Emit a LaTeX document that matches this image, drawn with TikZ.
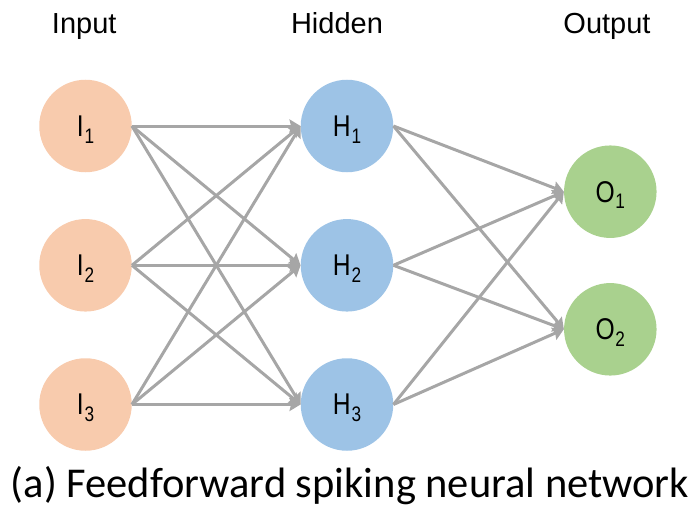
\documentclass[tikz,border=0pt]{standalone}
\usepackage{fontspec}
\setmainfont{Liberation Sans}
\newfontfamily\captionfont{Carlito}
\usetikzlibrary{arrows.meta}

\definecolor{inpcol}{HTML}{F8CBAD}
\definecolor{hidcol}{HTML}{9DC3E6}
\definecolor{outcol}{HTML}{A9D18E}
\definecolor{wirecol}{HTML}{A6A6A6}

% neuron label: narrow letter with a lowered subscript index
\newcommand{\neuron}[2]{\scalebox{0.82}[1]{#1\kern1pt{\fontsize{21}{21}\selectfont\raisebox{-6.7pt}{#2}}}}

\tikzset{
  neuronbase/.style={circle, minimum size=92.5pt, inner sep=0pt, text depth=0pt,
    font=\fontsize{30}{30}\selectfont},
  inneuron/.style={neuronbase, fill=inpcol},
  hidneuron/.style={neuronbase, fill=hidcol},
  outneuron/.style={neuronbase, fill=outcol},
  layertitle/.style={anchor=base, font=\fontsize{29}{29}\selectfont},
  wire/.style={draw=wirecol, line width=3pt,
    -{Stealth[length=11pt, width=13pt, inset=1.5pt]}},
}

\begin{document}
\begin{tikzpicture}[x=1pt, y=-1pt]
  \path[use as bounding box] (0,0) rectangle (695,508);

  % layer titles
  \node[layertitle] (tin)  at (84.2,33.3) {Input};
  \node[layertitle] (thid) at (337,33.3) {Hidden};
  \node[layertitle] (tout) at (607,33.3) {Output};

  % input layer
  \node[inneuron] (i1) at (85.5,126)   {\neuron{I}{1}};
  \node[inneuron] (i2) at (85.5,265.3) {\neuron{I}{2}};
  \node[inneuron] (i3) at (85.5,404.5) {\neuron{I}{3}};

  % hidden layer
  \node[hidneuron] (h1) at (347,126)   {\neuron{H}{1}};
  \node[hidneuron] (h2) at (347,265.3) {\neuron{H}{2}};
  \node[hidneuron] (h3) at (347,404.5) {\neuron{H}{3}};

  % output layer
  \node[outneuron] (o1) at (610.3,191.7) {\neuron{O}{1}};
  \node[outneuron] (o2) at (610.3,329.3) {\neuron{O}{2}};

  % fully connected input -> hidden
  \foreach \s in {1,2,3}
    \foreach \t in {1,2,3}
      \draw[wire] (i\s.east) -- (h\t.west);

  % fully connected hidden -> output
  \foreach \s in {1,2,3}
    \foreach \t in {1,2}
      \draw[wire] (h\s.east) -- (o\t.west);

  % caption
  \node[anchor=base, font=\captionfont\fontsize{42.5}{42.5}\selectfont] (cap) at (350,497)
    {(a) Feedforward spiking neural network};
\end{tikzpicture}
\end{document}
